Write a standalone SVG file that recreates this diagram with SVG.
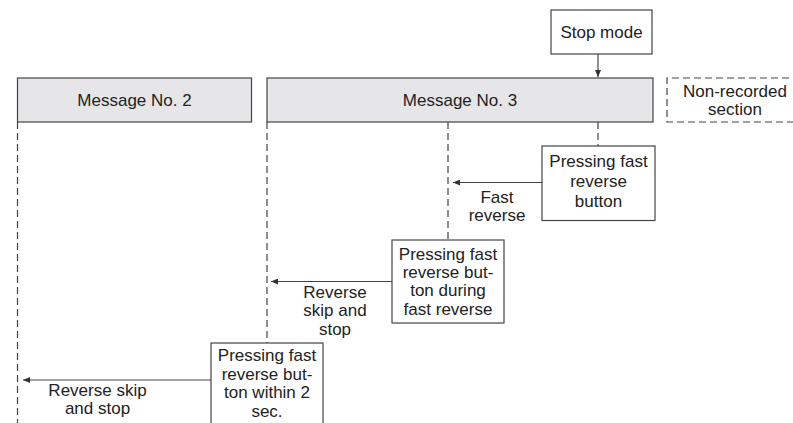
<svg xmlns="http://www.w3.org/2000/svg" width="793" height="423" viewBox="0 0 793 423">
<defs>
<style>
text{font-family:"Liberation Sans",Arial,sans-serif;font-size:17px;fill:#222;text-anchor:middle}
.msg{fill:#e6e6e8;stroke:#444;stroke-width:1.2}
.box{fill:#fff;stroke:#444;stroke-width:1.2}
.dash{fill:none;stroke:#444;stroke-width:1.2;stroke-dasharray:7 4}
.ln{fill:none;stroke:#444;stroke-width:1.2}
</style>
<marker id="ah" markerWidth="8" markerHeight="6" refX="7" refY="3" orient="auto" markerUnits="userSpaceOnUse">
<path d="M0,0 L7,3 L0,6 Z" fill="#333"/>
</marker>
</defs>
<rect width="793" height="423" fill="#fff"/>
<g id="connectors">
<path class="ln" d="M598,54 V77" marker-end="url(#ah)"/>
<path class="dash" d="M17.5,122 V423"/>
<path class="dash" d="M267,122 V343"/>
<path class="dash" d="M448,122 V240"/>
<path class="dash" d="M598,122 V146"/>
<path class="ln" d="M542,182.5 H453" marker-end="url(#ah)"/>
<path class="ln" d="M392,281.5 H271" marker-end="url(#ah)"/>
<path class="ln" d="M211,380 H23" marker-end="url(#ah)"/>
</g>
<g id="stop-mode">
<rect class="box" x="551" y="10" width="101" height="44"/>
<text x="601.5" y="38">Stop mode</text>
</g>
<g id="message-2">
<rect class="msg" x="17.5" y="78" width="234" height="44"/>
<text x="134.5" y="106">Message No. 2</text>
</g>
<g id="message-3">
<rect class="msg" x="267" y="78" width="386" height="44"/>
<text x="460" y="106">Message No. 3</text>
</g>
<g id="non-recorded">
<path class="dash" d="M800,78 H667 V122 H800"/>
<text x="735" y="97">Non-recorded</text>
<text x="735" y="115">section</text>
</g>
<g id="press-1">
<rect class="box" x="542" y="146" width="113" height="74.5"/>
<text x="598.5" y="167">Pressing fast</text>
<text x="598.5" y="187">reverse</text>
<text x="598.5" y="207">button</text>
</g>
<g id="label-fast-reverse">
<text x="497" y="203">Fast</text>
<text x="497" y="220.5">reverse</text>
</g>
<g id="press-2">
<rect class="box" x="392" y="240" width="112" height="83"/>
<text x="448" y="259.5">Pressing fast</text>
<text x="448" y="278">reverse but-</text>
<text x="448" y="296">ton during</text>
<text x="448" y="314.5">fast reverse</text>
</g>
<g id="label-reverse-skip-1">
<text x="335" y="298">Reverse</text>
<text x="335" y="315.5">skip and</text>
<text x="335" y="334.5">stop</text>
</g>
<g id="press-3">
<rect class="box" x="211" y="343" width="112" height="90"/>
<text x="267" y="361">Pressing fast</text>
<text x="267" y="379.5">reverse but-</text>
<text x="267" y="398">ton within 2</text>
<text x="267" y="416.5">sec.</text>
</g>
<g id="label-reverse-skip-2">
<text x="97.5" y="396">Reverse skip</text>
<text x="97.5" y="413.5">and stop</text>
</g>
</svg>
